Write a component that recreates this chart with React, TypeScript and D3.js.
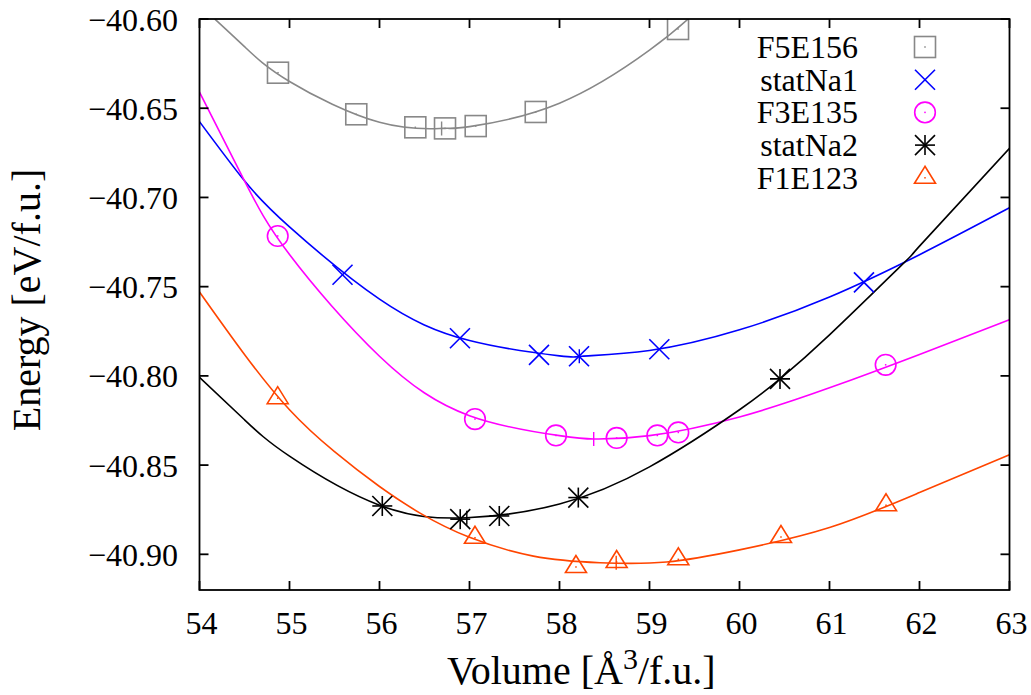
import React from "react";
import * as d3 from "d3";

// ---------- data ----------
const VOLUME_TICKS = [54, 55, 56, 57, 58, 59, 60, 61, 62, 63];
const ENERGY_TICKS = [-40.6, -40.65, -40.7, -40.75, -40.8, -40.85, -40.9];

const SERIES_NAMES = ["F5E156", "statNa1", "F3E135", "statNa2", "F1E123"];
const SERIES_COLORS = ["#888888", "#0000ff", "#ff00ff", "#000000", "#ff4500"];
const SERIES_MARKERS = ["square", "cross", "circle", "star", "triangle"];

// measured points
const F5E156_V = [54.872, 55.742, 56.398, 56.728, 57.069, 57.736, 59.317];
const F5E156_E = [-40.6301, -40.6534, -40.6607, -40.6613, -40.66, -40.6521, -40.6056];
const STATNA1_V = [55.589, 56.894, 57.772, 58.217, 59.109, 61.383];
const STATNA1_E = [-40.7433, -40.7789, -40.7882, -40.789, -40.7851, -40.7476];
const F3E135_V = [54.869, 57.061, 57.961, 58.635, 59.087, 59.32, 61.624];
const F3E135_E = [-40.7216, -40.8242, -40.8334, -40.8348, -40.8334, -40.8317, -40.7938];
const STATNA2_V = [56.031, 56.897, 57.331, 58.209, 60.45];
const STATNA2_E = [-40.8729, -40.8803, -40.8785, -40.8682, -40.8017];
const F1E123_V = [54.869, 57.061, 58.183, 58.635, 59.32, 60.461, 61.628];
const F1E123_E = [-40.8125, -40.8907, -40.9071, -40.9043, -40.9028, -40.8903, -40.8725];

// fitted curves
const F5E156_FIT_V = [54.17, 54.5, 55, 56, 56.7, 57, 58, 59, 59.43];
const F5E156_FIT_E = [-40.6, -40.6155, -40.635, -40.6579, -40.6613, -40.6603, -40.6472, -40.6175, -40.6];
const STATNA1_FIT_V = [54, 54.5, 55, 56, 57, 58, 58.25, 59, 60, 61, 62, 63];
const STATNA1_FIT_E = [-40.6575, -40.6907, -40.7165, -40.757, -40.7802, -40.7888, -40.789, -40.7858, -40.7742, -40.7558, -40.7321, -40.7058];
const F3E135_FIT_V = [54, 54.5, 55, 56, 57, 58, 58.38, 59, 60, 61, 62, 63];
const F3E135_FIT_E = [-40.641, -40.6907, -40.732, -40.789, -40.8223, -40.8335, -40.8354, -40.8335, -40.823, -40.8067, -40.788, -40.7685];
const STATNA2_FIT_V = [54, 54.5, 55, 56, 56.97, 58, 59, 60, 60.45, 61, 61.83, 62, 63];
const STATNA2_FIT_E = [-40.8008, -40.8246, -40.845, -40.8725, -40.8795, -40.8718, -40.851, -40.819, -40.8017, -40.777, -40.7365, -40.7273, -40.6725];
const F1E123_FIT_V = [54, 54.5, 55, 55.5, 56, 56.47, 57, 57.71, 58.45, 59.19, 60, 61, 62, 63];
const F1E123_FIT_E = [-40.753, -40.788, -40.819, -40.8425, -40.862, -40.8775, -40.8905, -40.901, -40.9047, -40.9043, -40.8975, -40.885, -40.8654, -40.8442];

// fit minima (drawn as a short vertical tick)
const MIN_V = [56.69, 58.22, 58.38, 56.97, 58.63];
const MIN_E = [-40.6613, -40.789, -40.8354, -40.8795, -40.9047];

const POINTS_V = [F5E156_V, STATNA1_V, F3E135_V, STATNA2_V, F1E123_V];
const POINTS_E = [F5E156_E, STATNA1_E, F3E135_E, STATNA2_E, F1E123_E];
const FIT_V = [F5E156_FIT_V, STATNA1_FIT_V, F3E135_FIT_V, STATNA2_FIT_V, F1E123_FIT_V];
const FIT_E = [F5E156_FIT_E, STATNA1_FIT_E, F3E135_FIT_E, STATNA2_FIT_E, F1E123_FIT_E];

// ---------- layout ----------
const W = 1031;
const H = 695;
const LEFT = 199.5;
const RIGHT = 1009.5;
const TOP = 19;
const BOTTOM = 590;
const FONT = "Liberation Serif";
const FS = 32;
const LFS = 40;

const x = d3.scaleLinear().domain([54, 63]).range([LEFT, RIGHT]);
const y = d3.scaleLinear().domain([-40.92, -40.6]).range([BOTTOM, TOP]);

const textStyle = { fontFamily: FONT, fontSize: FS + "px" };
const labelStyle = { fontFamily: FONT, fontSize: LFS + "px" };

function Marker({ type, cx, cy, color }: { type: string; cx: number; cy: number; color: string }) {
  const sw = 1.6;
  const dot = <rect x={cx - 0.75} y={cy - 0.75} width={1.5} height={1.5} fill={color} />;
  if (type === "square") {
    return (
      <g>
        <rect x={cx - 10.5} y={cy - 10.5} width={21} height={21} fill="none" stroke={color} strokeWidth={sw} />
        {dot}
      </g>
    );
  }
  if (type === "circle") {
    return (
      <g>
        <circle cx={cx} cy={cy} r={10.3} fill="none" stroke={color} strokeWidth={sw} />
        {dot}
      </g>
    );
  }
  if (type === "cross") {
    const s = 10;
    return (
      <g stroke={color} strokeWidth={sw}>
        <line x1={cx - s} y1={cy - s} x2={cx + s} y2={cy + s} />
        <line x1={cx - s} y1={cy + s} x2={cx + s} y2={cy - s} />
      </g>
    );
  }
  if (type === "star") {
    const s = 10;
    return (
      <g stroke={color} strokeWidth={sw}>
        <line x1={cx - s} y1={cy - s} x2={cx + s} y2={cy + s} />
        <line x1={cx - s} y1={cy + s} x2={cx + s} y2={cy - s} />
        <line x1={cx - s} y1={cy} x2={cx + s} y2={cy} />
        <line x1={cx} y1={cy - s} x2={cx} y2={cy + s} />
      </g>
    );
  }
  const pts = `${cx},${cy - 11.5} ${cx - 10.5},${cy + 5.5} ${cx + 10.5},${cy + 5.5}`;
  return (
    <g>
      <polygon points={pts} fill="none" stroke={color} strokeWidth={sw} strokeLinejoin="miter" />
      {dot}
    </g>
  );
}

export default function App() {
  const line = d3
    .line<[number, number]>()
    .x((d) => x(d[0]))
    .y((d) => y(d[1]))
    .curve(d3.curveNatural);

  const fmtY = (v: number) => "\u2212" + Math.abs(v).toFixed(2);

  return (
    <svg width={W} height={H} style={{ position: "absolute", left: 0, top: 0, background: "#fff" }}>
      <defs>
        <clipPath id="plotclip">
          <rect x={LEFT} y={TOP} width={RIGHT - LEFT} height={BOTTOM - TOP} />
        </clipPath>
      </defs>
      <rect x={0} y={0} width={W} height={H} fill="#fff" />

      <g clipPath="url(#plotclip)">
        {SERIES_NAMES.map((name, i) => {
          const data = FIT_V[i].map((v, j) => [v, FIT_E[i][j]] as [number, number]);
          return <path key={name} d={line(data) || ""} fill="none" stroke={SERIES_COLORS[i]} strokeWidth={1.6} />;
        })}
        {SERIES_NAMES.map((name, i) => (
          <line
            key={"min" + name}
            x1={x(MIN_V[i])}
            x2={x(MIN_V[i])}
            y1={y(MIN_E[i]) - 7}
            y2={y(MIN_E[i]) + 7}
            stroke={SERIES_COLORS[i]}
            strokeWidth={1.4}
          />
        ))}
        {SERIES_NAMES.map((name, i) =>
          POINTS_V[i].map((v, j) => (
            <Marker key={name + j} type={SERIES_MARKERS[i]} cx={x(v)} cy={y(POINTS_E[i][j])} color={SERIES_COLORS[i]} />
          ))
        )}
      </g>

      <g stroke="#000" strokeWidth={1.8}>
        {VOLUME_TICKS.map((t) => (
          <g key={"xt" + t}>
            <line x1={x(t)} x2={x(t)} y1={BOTTOM} y2={BOTTOM - 9} />
            <line x1={x(t)} x2={x(t)} y1={TOP} y2={TOP + 9} />
          </g>
        ))}
        {ENERGY_TICKS.map((t) => (
          <g key={"yt" + t}>
            <line x1={LEFT} x2={LEFT + 9} y1={y(t)} y2={y(t)} />
            <line x1={RIGHT} x2={RIGHT - 9} y1={y(t)} y2={y(t)} />
          </g>
        ))}
        <rect x={LEFT} y={TOP} width={RIGHT - LEFT} height={BOTTOM - TOP} fill="none" />
      </g>

      {VOLUME_TICKS.map((t) => (
        <text key={"xl" + t} x={x(t) + 2} y={634} textAnchor="middle" style={textStyle}>
          {t}
        </text>
      ))}
      {ENERGY_TICKS.map((t) => (
        <text key={"yl" + t} x={178} y={y(t) + 11.5} textAnchor="end" style={textStyle}>
          {fmtY(t)}
        </text>
      ))}

      <text x={447} y={684} textAnchor="start" style={labelStyle}>
        Volume [Å<tspan dy={-15} style={{ fontSize: LFS * 0.75 + "px" }}>3</tspan>
        <tspan dy={15}>/f.u.]</tspan>
      </text>
      <text
        transform={`translate(40, 300) rotate(-90)`}
        textAnchor="middle"
        style={labelStyle}
      >
        Energy [eV/f.u.]
      </text>

      {SERIES_NAMES.map((name, i) => {
        const cy = 47 + i * 32.7;
        return (
          <g key={"lg" + name}>
            <text x={858} y={cy + 11} textAnchor="end" style={textStyle}>
              {name}
            </text>
            <Marker type={SERIES_MARKERS[i]} cx={925} cy={cy} color={SERIES_COLORS[i]} />
          </g>
        );
      })}
    </svg>
  );
}
